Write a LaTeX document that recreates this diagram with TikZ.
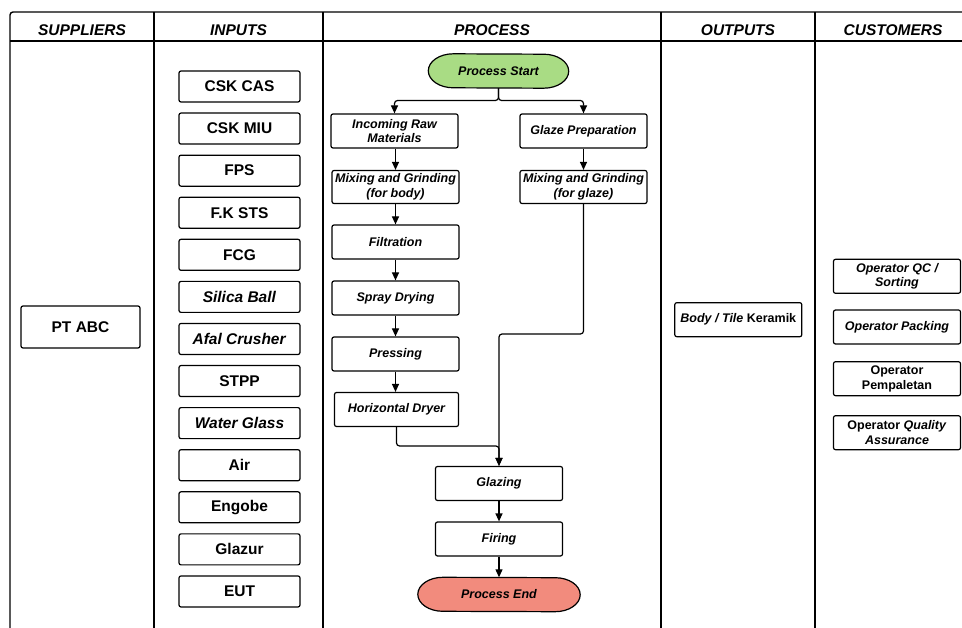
\documentclass[tikz,border=0pt]{standalone}
\usepackage{fontspec}
\setmainfont{Liberation Sans}
\usetikzlibrary{positioning, arrows.meta, backgrounds}

\definecolor{startgreen}{HTML}{A9DC84}
\definecolor{endred}{HTML}{F28B7D}

\tikzset{
	box/.style={draw, line width=1.2pt, rounded corners=2pt, inner sep=1pt, align=center},
	inbox/.style={box, minimum width=121pt, minimum height=31pt, font=\fontsize{15.5}{17}\selectfont\bfseries},
	procbox/.style={box, minimum width=127pt, minimum height=34pt, font=\fontsize{12.5}{14.7}\selectfont\bfseries\itshape},
	custbox/.style={box, minimum width=127pt, minimum height=34pt, font=\fontsize{12.5}{14.7}\selectfont\bfseries},
	terminal/.style={minimum width=140pt, minimum height=34pt, inner sep=0pt, font=\fontsize{12.5}{14.7}\selectfont\bfseries\itshape},
	termline/.style={line width=1.2pt},
	header/.style={font=\fontsize{15.5}{17}\selectfont\bfseries\itshape},
	flow/.style={-{Triangle[length=8pt,width=7pt]}, line width=1.2pt, rounded corners=3pt},
}

\newcommand\termoutline[2]{%
	\draw[termline, fill=#2] ([xshift=25pt]#1.north west)
		arc[start angle=90, end angle=270, x radius=25pt, y radius=17pt]
		-- ([xshift=-25pt]#1.south east)
		arc[start angle=-90, end angle=90, x radius=25pt, y radius=17pt]
		-- cycle;}

\begin{document}
\begin{tikzpicture}[x=1pt, y=-1pt]
	\useasboundingbox (0,0) rectangle (962,628);

	\draw[line width=1.4pt, rounded corners=3pt] (10,628) |- (962,12);
	\draw[line width=1.4pt] (10,41) -- (962,41);
	\foreach \cx in {154, 323, 661, 815}
		\draw[line width=1.4pt] (\cx,12) -- (\cx,628);

	\node[header] (hsup) at (82,30) {SUPPLIERS};
	\node[header] (hin) at (238.5,30) {INPUTS};
	\node[header] (hproc) at (492,30) {PROCESS};
	\node[header] (hout) at (738,30) {OUTPUTS};
	\node[header] (hcust) at (893,30) {CUSTOMERS};

	\node[inbox, minimum width=119pt, minimum height=42pt] (ptabc) at (80.5,327) {PT ABC};

	\foreach \lbl [count=\i from 0] in {CSK CAS, CSK MIU, FPS, F.K STS, FCG, \textit{Silica Ball}, \textit{Afal Crusher}, STPP, \textit{Water Glass}, Air, Engobe, Glazur, EUT}
		\node[inbox] (in\i) at (239.5,86.5+42.08*\i) {\lbl};

	\node[terminal] (start) at (498.5,71) {Process Start};
	\node[procbox] (incoming) at (394.5,131) {Incoming Raw\\Materials};
	\node[procbox] (glazeprep) at (583.5,131) {Glaze Preparation};
	\node[procbox, minimum height=33pt] (mixbody) at (395.5,187) {Mixing and Grinding\\(for body)};
	\node[procbox, minimum height=33pt] (mixglaze) at (583.5,187) {Mixing and Grinding\\(for glaze)};
	\node[procbox] (filtration) at (395.5,242) {Filtration};
	\node[procbox] (spray) at (395.5,298) {Spray Drying};
	\node[procbox] (pressing) at (395.5,354) {Pressing};
	\node[procbox, minimum width=124pt] (hdryer) at (396.5,409.5) {Horizontal Dryer};
	\node[procbox] (glazing) at (499,483.5) {Glazing};
	\node[procbox] (firing) at (499,539) {Firing};
	\node[terminal, minimum width=162pt] (finish) at (499,594.5) {Process End};

	\begin{scope}[on background layer]
		\termoutline{start}{startgreen}
		\termoutline{finish}{endred}
	\end{scope}

	\coordinate (fork) at (498.5,100.5);
	\coordinate (joinbody) at (499,446);
	\coordinate (joinglaze) at (499,334);

	\draw[flow] (start.south) -- (fork) -| (incoming.north);
	\draw[flow] (start.south) -- (fork) -| (glazeprep.north);
	\draw[flow] (incoming.south -| mixbody) -- (mixbody);
	\draw[flow] (mixbody) -- (filtration);
	\draw[flow] (filtration) -- (spray);
	\draw[flow] (spray) -- (pressing);
	\draw[flow] (pressing) -- (pressing |- hdryer.north);
	\draw[flow] (glazeprep) -- (mixglaze);
	\draw[flow] (hdryer.south) |- (joinbody) -- (glazing.north);
	\draw[flow] (mixglaze.south) |- (joinglaze) -- (glazing.north);
	\draw[flow] (glazing) -- (firing);
	\draw[flow] (firing) -- (finish);

	\node[custbox] (body) at (738.3,319.7) {\textit{Body / Tile} Keramik};

	\node[custbox] (opqc) at (897,276.3) {\itshape Operator QC /\\\itshape Sorting};
	\node[custbox] (oppack) at (897,327) {\itshape Operator Packing};
	\node[custbox] (oppal) at (897,378.7) {Operator\\Pempaletan};
	\node[custbox] (opqa) at (897,432.7) {Operator \textit{Quality}\\\textit{Assurance}};
\end{tikzpicture}
\end{document}
